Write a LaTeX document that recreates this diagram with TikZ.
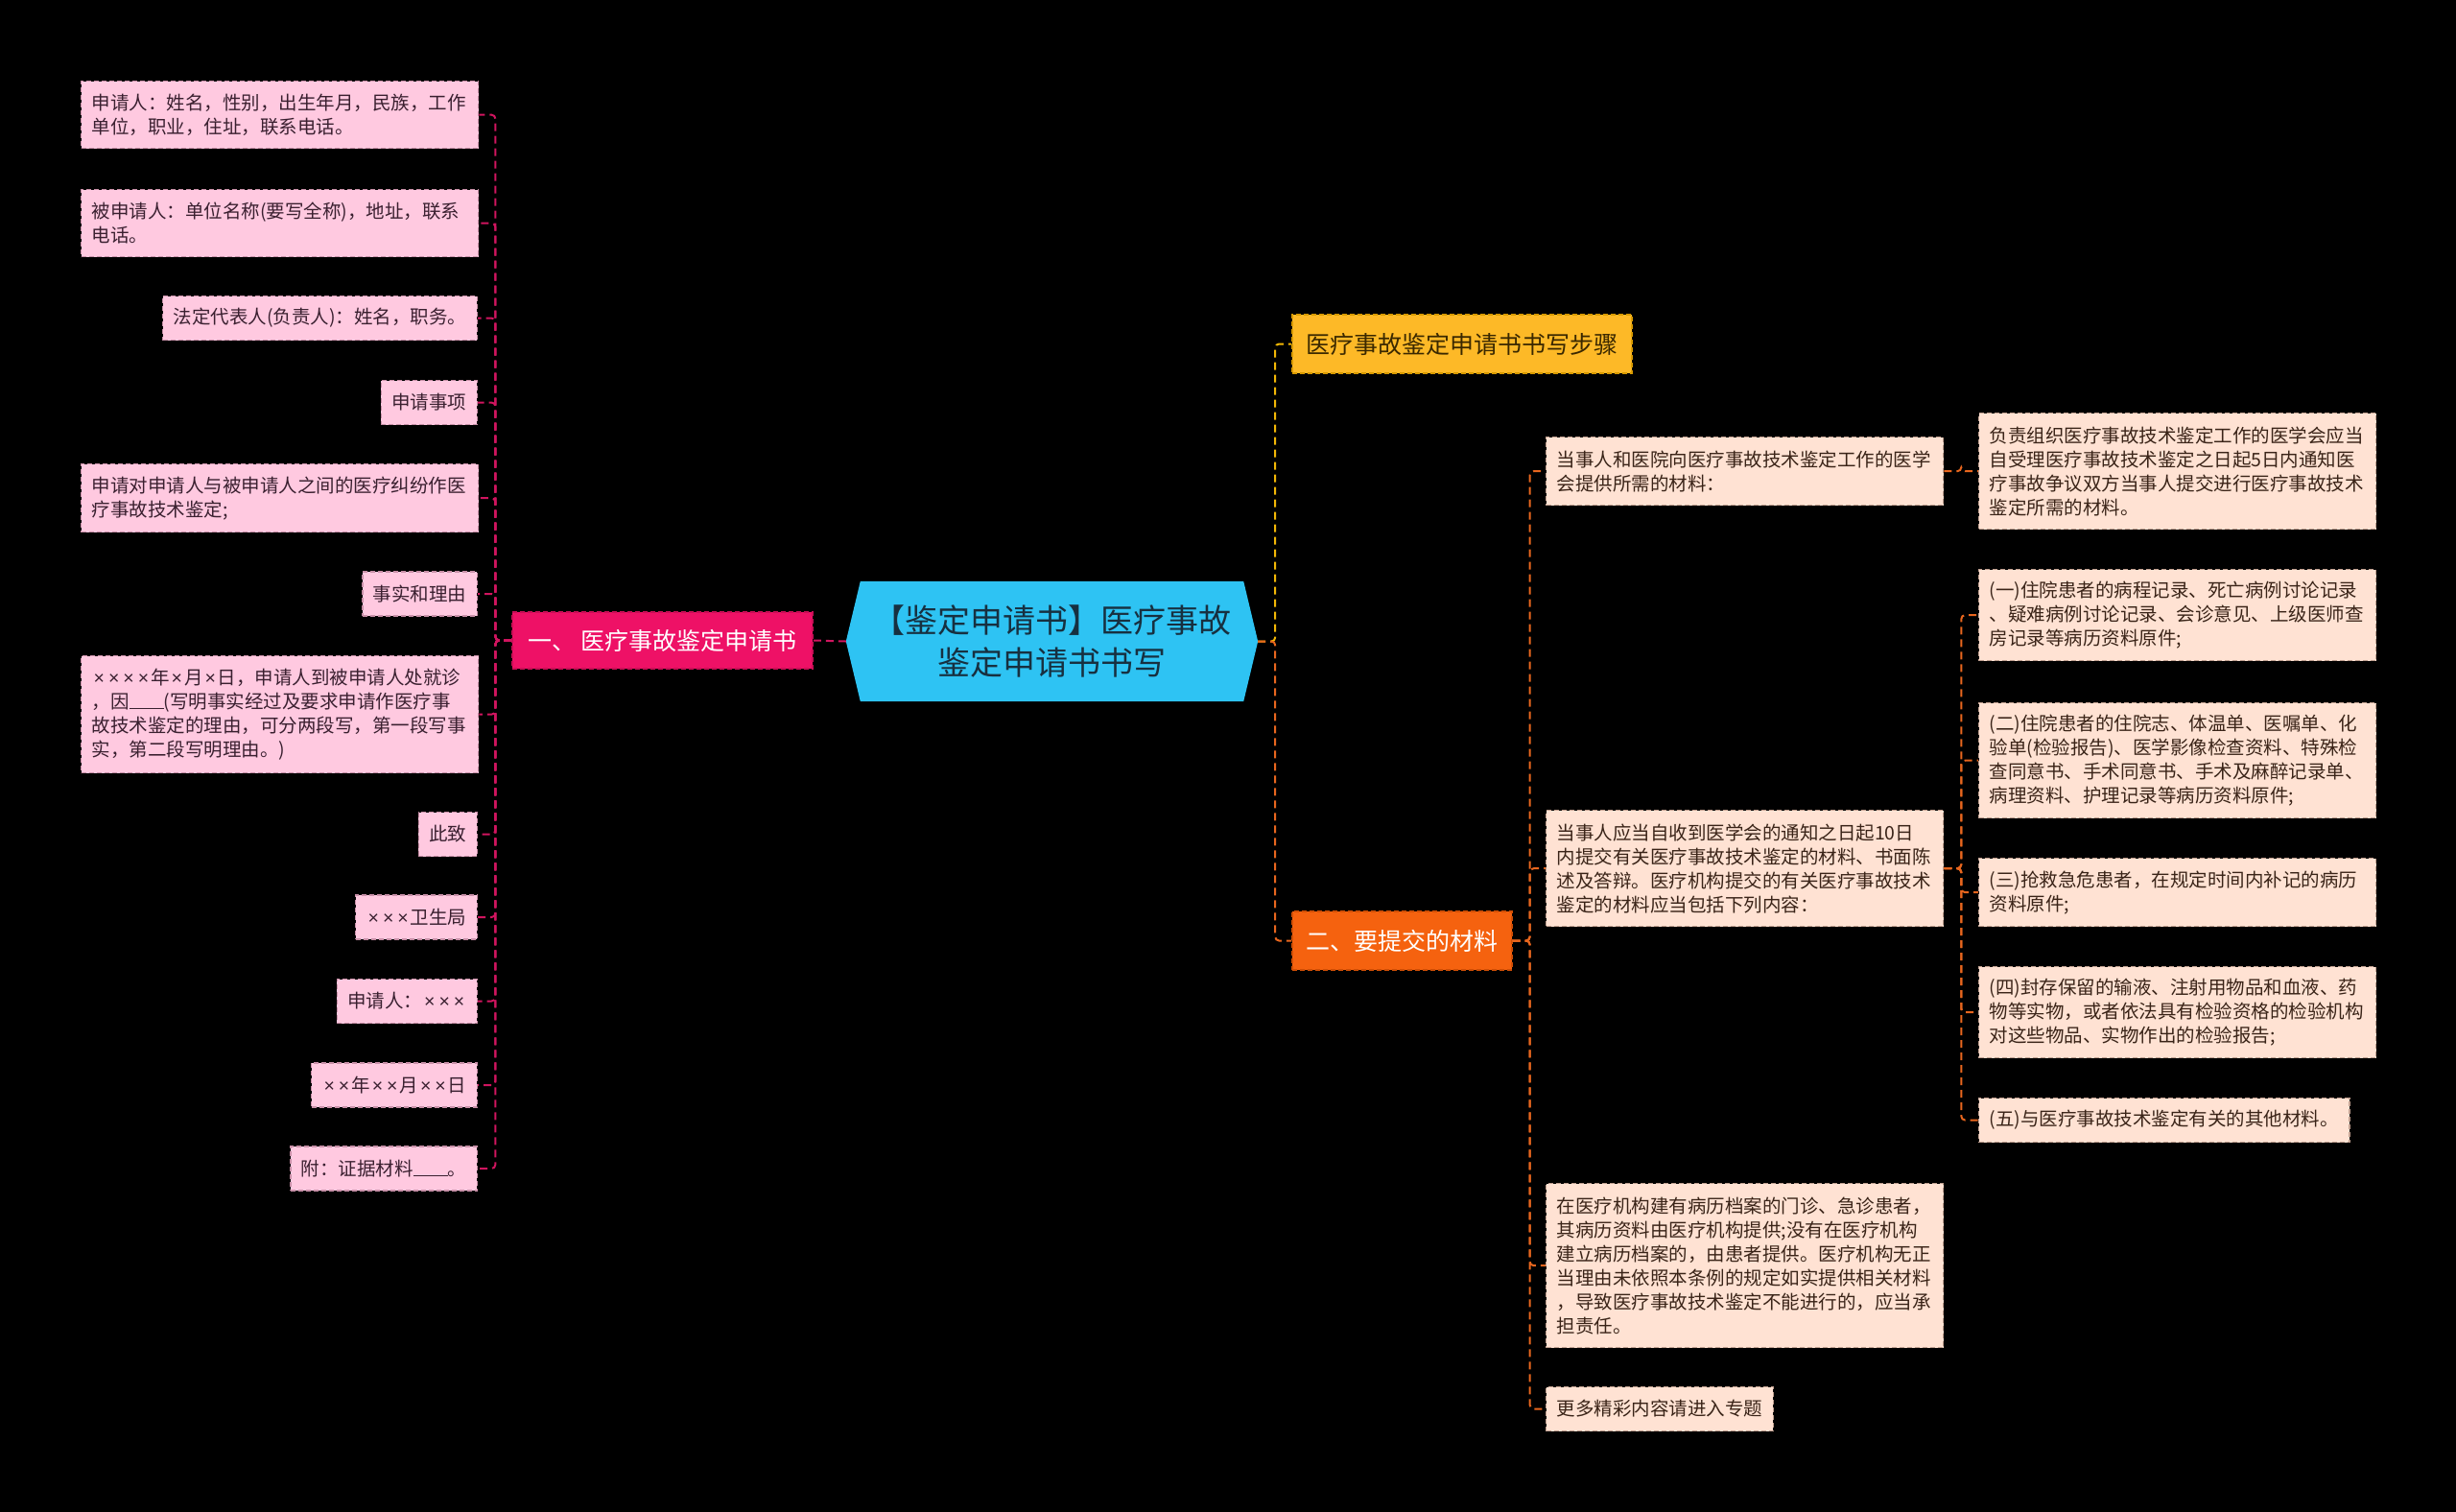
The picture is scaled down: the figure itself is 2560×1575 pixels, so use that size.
\documentclass[tikz,border=0pt]{standalone}
\usepackage{fontspec}
\setmainfont{Noto Sans CJK SC}
\newfontfamily\latinx{Liberation Sans}
\newcommand{\xx}{{\latinx\kern2pt ×\kern2pt}}
\usetikzlibrary{backgrounds}
\definecolor{bg}{HTML}{000000}
\definecolor{cblue}{HTML}{2EC3F3}
\definecolor{ctext}{HTML}{173040}
\definecolor{pinkbr}{HTML}{EE1166}
\definecolor{pinkbrd}{HTML}{C80E55}
\definecolor{lfill}{HTML}{FFC9E0}
\definecolor{lborder}{HTML}{C890A8}
\definecolor{ltext}{HTML}{3A2030}
\definecolor{lline}{HTML}{D0155F}
\definecolor{yfill}{HTML}{FDB927}
\definecolor{yborder}{HTML}{D89A00}
\definecolor{ytext}{HTML}{3A2800}
\definecolor{yline}{HTML}{F2B705}
\definecolor{ofill}{HTML}{F5620F}
\definecolor{oborder}{HTML}{D04E05}
\definecolor{oline}{HTML}{E8661E}
\definecolor{rfill}{HTML}{FFE2D3}
\definecolor{rborder}{HTML}{C0A090}
\definecolor{rtext}{HTML}{3A2418}
\begin{document}
\begin{tikzpicture}[x=1pt,y=-1pt,
  boxdash/.style={dash pattern=on 5pt off 3pt, line width=1.3pt},
  conn/.style={dash pattern=on 8pt off 5pt, line width=2pt, rounded corners=4pt},
  lconn/.style={conn, draw=lline},
  yconn/.style={conn, draw=yline},
  oconn/.style={conn, draw=oline},
  smallfont/.style={font=\fontsize{19.5}{25}\selectfont},
  lbox/.style={smallfont, boxdash, fill=lfill, draw=lborder, text=ltext, inner xsep=11pt, inner ysep=0pt, align=left},
  rbox/.style={smallfont, boxdash, fill=rfill, draw=rborder, text=rtext, inner xsep=11pt, inner ysep=0pt, align=left},
  lmulti/.style={lbox, anchor=north west, text width=392pt},
  rmulti/.style={rbox, anchor=north west, text width=392pt},
  lsingle/.style={lbox, anchor=east, minimum height=46pt},
  rsingle/.style={rbox, anchor=west, minimum height=46pt},
  branch/.style={font=\fontsize{25}{30}\selectfont, boxdash, inner sep=0pt, align=center},
  centre/.style={font=\fontsize{34}{44}\selectfont, text=ctext, inner sep=0pt, align=center, minimum width=429pt, minimum height=125pt}
]
\useasboundingbox (0,0) rectangle (2560,1575);

% centre
\node[centre] (c) at (1096.5,668.5) {【鉴定申请书】医疗事故\\鉴定申请书书写};
\begin{scope}[on background layer]
\fill[bg] (-10,-10) rectangle (2570,1585);
\fill[cblue] ([xshift=15pt]c.north west) -- ([xshift=-15pt]c.north east) -- (c.east) -- ([xshift=-15pt]c.south east) -- ([xshift=15pt]c.south west) -- (c.west) -- cycle;
\end{scope}

% main branches
\node[branch, fill=pinkbr, draw=pinkbrd, text=white, minimum width=313pt, minimum height=59pt] (b1) at (690.5,667.5) {一、 医疗事故鉴定申请书};
\node[branch, fill=yfill, draw=yborder, text=ytext, minimum width=354pt, minimum height=61pt] (b2) at (1524,358.5) {医疗事故鉴定申请书书写步骤};
\node[branch, fill=ofill, draw=oborder, text=white, minimum width=229pt, minimum height=61pt] (b3) at (1461.5,980.5) {二、要提交的材料};

% left children
\node[lmulti, minimum height=70pt] (l1) at (84,84) {申请人：姓名，性别，出生年月，民族，工作\\单位，职业，住址，联系电话。};
\node[lmulti, minimum height=70pt] (l2) at (84,197) {被申请人：单位名称(要写全称)，地址，联系\\电话。};
\node[lsingle] (l3) at (498,331.5) {法定代表人(负责人)：姓名，职务。};
\node[lsingle] (l4) at (498,419.5) {申请事项};
\node[lmulti, minimum height=71pt] (l5) at (84,483) {申请对申请人与被申请人之间的医疗纠纷作医\\疗事故技术鉴定;};
\node[lsingle] (l6) at (498,619) {事实和理由};
\node[lmulti, minimum height=122pt] (l7) at (84,683) {\xx\xx\xx\xx 年\xx 月\xx 日，申请人到被申请人处就诊\\，因\rule[-1pt]{36pt}{1pt}(写明事实经过及要求申请作医疗事\\故技术鉴定的理由，可分两段写，第一段写事\\实，第二段写明理由。)};
\node[lsingle] (l8) at (498,869.5) {此致};
\node[lsingle] (l9) at (498,956) {\xx\xx\xx 卫生局};
\node[lsingle] (l10) at (498,1043.5) {申请人：\xx\xx\xx};
\node[lsingle] (l11) at (498,1131) {\xx\xx 年\xx\xx 月\xx\xx 日};
\node[lsingle] (l12) at (498,1218) {附：证据材料\rule[-1pt]{36pt}{1pt}。};

% right children of b3
\node[rmulti, minimum height=71pt] (r1) at (1611,455) {当事人和医院向医疗事故技术鉴定工作的医学\\会提供所需的材料：};
\node[rmulti, minimum height=121pt] (r2) at (1611,844) {当事人应当自收到医学会的通知之日起10日\\内提交有关医疗事故技术鉴定的材料、书面陈\\述及答辩。医疗机构提交的有关医疗事故技术\\鉴定的材料应当包括下列内容：};
\node[rmulti, minimum height=171pt] (r3) at (1611,1233) {在医疗机构建有病历档案的门诊、急诊患者，\\其病历资料由医疗机构提供;没有在医疗机构\\建立病历档案的，由患者提供。医疗机构无正\\当理由未依照本条例的规定如实提供相关材料\\，导致医疗事故技术鉴定不能进行的，应当承\\担责任。};
\node[rsingle] (r4) at (1611,1468.5) {更多精彩内容请进入专题};

% grandchildren
\node[rmulti, minimum height=121pt] (r11) at (2062,430) {负责组织医疗事故技术鉴定工作的医学会应当\\自受理医疗事故技术鉴定之日起5日内通知医\\疗事故争议双方当事人提交进行医疗事故技术\\鉴定所需的材料。};
\node[rmulti, minimum height=95pt] (r21) at (2062,593) {(一)住院患者的病程记录、死亡病例讨论记录\\、疑难病例讨论记录、会诊意见、上级医师查\\房记录等病历资料原件;};
\node[rmulti, minimum height=120pt] (r22) at (2062,732) {(二)住院患者的住院志、体温单、医嘱单、化\\验单(检验报告)、医学影像检查资料、特殊检\\查同意书、手术同意书、手术及麻醉记录单、\\病理资料、护理记录等病历资料原件;};
\node[rmulti, minimum height=71pt] (r23) at (2062,894) {(三)抢救急危患者，在规定时间内补记的病历\\资料原件;};
\node[rmulti, minimum height=95pt] (r24) at (2062,1007) {(四)封存保留的输液、注射用物品和血液、药\\物等实物，或者依法具有检验资格的检验机构\\对这些物品、实物作出的检验报告;};
\node[rsingle] (r25) at (2062,1167.5) {(五)与医疗事故技术鉴定有关的其他材料。};

% connectors: left
\draw[lconn] (c.west) -- (b1.east);
\foreach \n in {l1,l2,l3,l4,l5,l6,l7,l8,l9,l10,l11,l12}
  \draw[lconn] (b1.west) -- ++(-17,0) |- (\n.east);

% connectors: right
\draw[yconn] (c.east) -- ++(18,0) |- (b2.west);
\draw[oconn] (c.east) -- ++(18,0) |- (b3.west);
\foreach \n in {r1,r2,r3,r4}
  \draw[oconn] (b3.east) -- ++(18,0) |- (\n.west);
\draw[oconn] (r1.east) -- ++(18,0) |- (r11.west);
\foreach \n in {r21,r22,r23,r24,r25}
  \draw[oconn] (r2.east) -- ++(18,0) |- (\n.west);
\end{tikzpicture}
\end{document}
